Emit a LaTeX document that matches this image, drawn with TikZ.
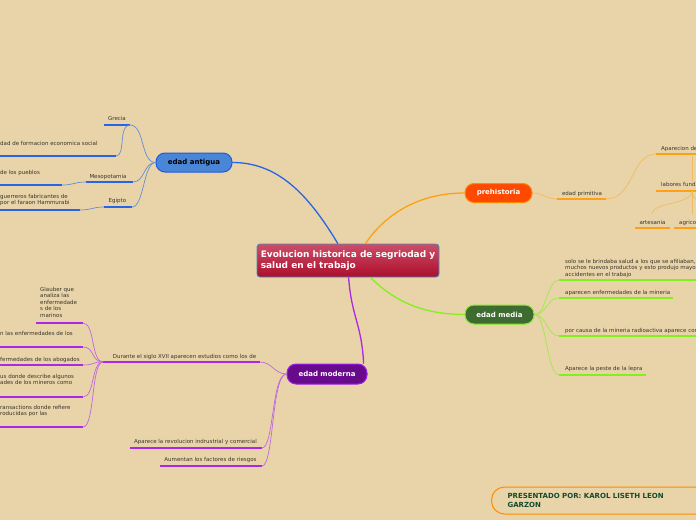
\documentclass[tikz,border=0pt]{standalone}
\usepackage{fontspec}
\setmainfont{DejaVu Sans}
\usepackage{tikz}
\usetikzlibrary{positioning}

\definecolor{paper}{RGB}{232,212,168}
\definecolor{ink}{RGB}{58,52,44}
\definecolor{centretop}{RGB}{204,78,104}
\definecolor{centrebot}{RGB}{172,14,44}
\definecolor{centreedge}{RGB}{70,140,190}
\definecolor{antfill}{RGB}{74,134,216}
\definecolor{antedge}{RGB}{30,90,225}
\definecolor{antline}{RGB}{40,100,232}
\definecolor{anttwig}{RGB}{105,140,215}
\definecolor{prefill}{RGB}{255,72,0}
\definecolor{preedge}{RGB}{255,140,0}
\definecolor{preline}{RGB}{255,160,20}
\definecolor{pretwig}{RGB}{244,186,96}
\definecolor{medfill}{RGB}{62,107,48}
\definecolor{mededge}{RGB}{128,240,32}
\definecolor{medline}{RGB}{130,240,30}
\definecolor{medtwig}{RGB}{160,232,80}
\definecolor{modfill}{RGB}{104,10,140}
\definecolor{modedge}{RGB}{160,32,240}
\definecolor{modline}{RGB}{172,40,232}
\definecolor{modtwig}{RGB}{192,104,226}
\definecolor{autorink}{RGB}{20,75,45}

\begin{document}
\begin{tikzpicture}[x=1pt, y=-1pt, every text node part/.style={align=left}]
        \tikzset{
          era/.style={draw, line width=1pt, rounded corners=9pt, minimum height=19pt,
            font=\fontsize{7}{8}\selectfont\bfseries},
          small/.style={font=\fontsize{5.5}{6.5}\selectfont, text=ink, inner sep=0pt},
          branch/.style={line width=1.3pt},
          twig/.style={line width=0.7pt},
          ul/.style={line width=1.8pt},
        }
        \useasboundingbox (0,0) rectangle (696,520);
        \fill[paper] (0,0) rectangle (696,520);
        % main nodes
        \node [draw=centreedge, line width=0.8pt, rounded corners=3pt, top color=centretop,
          bottom color=centrebot, minimum width=182pt, minimum height=33pt, text=white,
          font=\fontsize{9}{11}\selectfont\bfseries] (centre) at (348,260.5)
          {Evolucion historica de segriodad y\\salud en el trabajo};
        \node [era, fill=antfill, draw=antedge, minimum width=76pt, text=black] (antigua) at (194,162.5) {edad antigua};
        \node [era, fill=prefill, draw=preedge, minimum width=67pt, text=white] (prehistoria) at (498.5,193) {prehistoria};
        \node [era, fill=medfill, draw=mededge, minimum width=69pt, text=white] (media) at (499.5,314.5) {edad media};
        \node [era, fill=modfill, draw=modedge, minimum width=80pt, minimum height=20pt, text=white] (moderna) at (327,374) {edad moderna};
        \node [draw=preedge, line width=1pt, rounded corners=13pt, minimum height=27pt, anchor=west,
          text width=200pt, inner xsep=16pt, text=autorink, font=\fontsize{7}{9}\selectfont\bfseries]
          (autor) at (491,500.5) {PRESENTADO POR: KAROL LISETH LEON\\GARZON};
        % 
        \draw [branch, antline] (centre.121) .. controls +(-30,-50) and +(45,0) .. (antigua.east);
        \draw [branch, preline] (centre.44) .. controls +(20,-30) and +(-45,0) .. (prehistoria.west);
        \draw [branch, medline] (centre.-37) .. controls +(25,25) and +(-40,0) .. (media.west);
        \draw [branch, modline] (centre.-88) .. controls +(3,40) and +(-2,-40) .. (moderna.16);
        % edad antigua
        \coordinate (grecia-l) at (104,125);
        \coordinate (grecia-r) at (130,125);
        \coordinate (social-l) at (-2,156);
        \coordinate (social-r) at (116,156);
        \coordinate (meso-l) at (86,182);
        \coordinate (meso-r) at (133,182);
        \coordinate (pueblos-l) at (-2,185);
        \coordinate (pueblos-r) at (62,185);
        \coordinate (egipto-l) at (104,207);
        \coordinate (egipto-r) at (132,207);
        \coordinate (hammu-l) at (-2,210);
        \coordinate (hammu-r) at (80,210);
        \node [small, anchor=base] (grecia) at (117,120) {Grecia};
        \node [small, anchor=base west] (social) at (0,145) {dad de formacion economica social};
        \node [small, anchor=base] (meso) at (108,178) {Mesopotamia};
        \node [small, anchor=base west] (pueblos) at (0,174) {de los pueblos};
        \node [small, anchor=base] (egipto) at (117.5,202) {Egipto};
        \node [small, anchor=north west] (hammu) at (0,194) {guerreros fabricantes de\\por el faraon Hammurabi};
        \draw [ul, antline] (grecia-l) -- (grecia-r);
        \draw [ul, antline] (social-l) -- (social-r);
        \draw [ul, antline] (meso-l) -- (meso-r);
        \draw [ul, antline] (pueblos-l) -- (pueblos-r);
        \draw [ul, antline] (egipto-l) -- (egipto-r);
        \draw [ul, antline] (hammu-l) -- (hammu-r);
        \draw [twig, anttwig] (antigua.west) .. controls +(-15,0) and +(15,0) .. (grecia-r);
        \draw [twig, anttwig] (antigua.west) .. controls +(-12,0) and +(12,0) .. (meso-r);
        \draw [twig, anttwig] (antigua.west) .. controls +(-12,0) and +(12,0) .. (egipto-r);
        \draw [twig, anttwig] (grecia-r) .. controls +(-12,0) and +(10,0) .. (social-r);
        \draw [twig, anttwig] (meso-l) .. controls +(-12,0) and +(12,0) .. (pueblos-r);
        \draw [twig, anttwig] (egipto-l) .. controls +(-12,0) and +(12,0) .. (hammu-r);
        % prehistoria
        \coordinate (primitiva-l) at (557,199);
        \coordinate (primitiva-r) at (606,199);
        \coordinate (aparecion-l) at (656,154);
        \coordinate (aparecion-r) at (700,154);
        \coordinate (aparecion-m) at (692,154);
        \coordinate (labores-l) at (656,191);
        \coordinate (labores-r) at (700,191);
        \coordinate (labores-m) at (692,191);
        \coordinate (labores-x) at (716,216);
        \coordinate (artesania-l) at (635,228);
        \coordinate (artesania-r) at (670,228);
        \coordinate (artesania-t) at (652,214);
        \coordinate (agricola-l) at (674,228);
        \coordinate (agricola-r) at (700,228);
        \coordinate (agricola-t) at (692,214);
        \node [small, anchor=base] (primitiva) at (582,195) {edad primitiva};
        \node [small, anchor=base west] (aparecion) at (661,150) {Aparecion de};
        \node [small, anchor=base west] (labores) at (661,186.5) {labores funda};
        \node [small, anchor=base] (artesania) at (652.5,224) {artesania};
        \node [small, anchor=base west] (agricola) at (679,224) {agricol};
        \draw [ul, preline] (primitiva-l) -- (primitiva-r);
        \draw [ul, preline] (aparecion-l) -- (aparecion-r);
        \draw [ul, preline] (labores-l) -- (labores-r);
        \draw [ul, preline] (artesania-l) -- (artesania-r);
        \draw [ul, preline] (agricola-l) -- (agricola-r);
        \draw [twig, pretwig] (prehistoria.east) .. controls +(12,0) and +(-12,0) .. (primitiva-l);
        \draw [twig, pretwig] (primitiva-r) .. controls +(28,0) and +(-25,0) .. (aparecion-l);
        \draw [twig, pretwig] (aparecion-m) -- (aparecion-m |- labores.north);
        \draw [twig, pretwig] (labores-m) .. controls +(0,14) and +(0,-12) .. (artesania-t);
        \draw [twig, pretwig] (labores-m) -- (agricola-t);
        \draw [twig, pretwig] (labores-m) .. controls +(0,14) and +(0,-12) .. (labores-x);
        % edad media
        \coordinate (solo-l) at (559,280);
        \coordinate (solo-r) at (700,280);
        \coordinate (mineria-l) at (559,298);
        \coordinate (mineria-r) at (673,298);
        \coordinate (causa-l) at (559,336);
        \coordinate (causa-r) at (700,336);
        \coordinate (lepra-l) at (559,375);
        \coordinate (lepra-r) at (646,375);
        \node [small, anchor=north west] (solo) at (565,259) {solo se le brindaba salud a los que se afiliaban,\\muchos nuevos productos y esto produjo mayo\\accidentes en el trabajo};
        \node [small, anchor=base west] (mineria) at (565,294) {aparecen enfermedades de la mineria};
        \node [small, anchor=base west] (causa) at (565,332) {por causa de la mineria radioactiva aparece con};
        \node [small, anchor=base west] (lepra) at (565,370.5) {Aparece la peste de la lepra};
        \draw [ul, medline] (solo-l) -- (solo-r);
        \draw [ul, medline] (mineria-l) -- (mineria-r);
        \draw [ul, medline] (causa-l) -- (causa-r);
        \draw [ul, medline] (lepra-l) -- (lepra-r);
        \draw [twig, medtwig] (media.east) .. controls +(12,0) and +(-12,0) .. (solo-l);
        \draw [twig, medtwig] (media.east) .. controls +(12,0) and +(-12,0) .. (mineria-l);
        \draw [twig, medtwig] (media.east) .. controls +(12,0) and +(-12,0) .. (causa-l);
        \draw [twig, medtwig] (media.east) .. controls +(12,0) and +(-12,0) .. (lepra-l);
        % edad moderna
        \coordinate (durante-l) at (103,362);
        \coordinate (durante-r) at (260,362);
        \coordinate (glauber-l) at (36,323);
        \coordinate (glauber-r) at (83,323);
        \coordinate (losde-l) at (-2,347);
        \coordinate (losde-r) at (83,347);
        \coordinate (abogados-l) at (-2,365);
        \coordinate (abogados-r) at (83,365);
        \coordinate (mineros-l) at (-2,397);
        \coordinate (mineros-r) at (83,397);
        \coordinate (trans-l) at (-2,427);
        \coordinate (trans-r) at (83,427);
        \coordinate (revol-l) at (130,448);
        \coordinate (revol-r) at (262,448);
        \coordinate (riesgos-l) at (160,466);
        \coordinate (riesgos-r) at (262,466);
        \node [small, anchor=base] (durante) at (184.5,358) {Durante el siglo XVII aparecen estudios como los de};
        \node [small, anchor=north west] (glauber) at (40,287) {Glauber que\\analiza las\\enfermedade\\s de los\\marinos};
        \node [small, anchor=base west] (losde) at (0,335.5) {n las enfermedades de los};
        \node [small, anchor=base west] (abogados) at (0,361) {fermedades de los abogados};
        \node [small, anchor=north west] (mineros) at (0,374) {us donde describe algunos\\ades de los mineros como};
        \node [small, anchor=north west] (trans) at (0,405) {ransactions donde refiere\\roducidas por las};
        \node [small, anchor=base] (revol) at (195.5,443) {Aparece la revolucion indrustrial y comercial};
        \node [small, anchor=base] (riesgos) at (210.5,461) {Aumentan los factores de riesgos};
        \draw [ul, modline] (durante-l) -- (durante-r);
        \draw [ul, modline] (glauber-l) -- (glauber-r);
        \draw [ul, modline] (losde-l) -- (losde-r);
        \draw [ul, modline] (abogados-l) -- (abogados-r);
        \draw [ul, modline] (mineros-l) -- (mineros-r);
        \draw [ul, modline] (trans-l) -- (trans-r);
        \draw [ul, modline] (revol-l) -- (revol-r);
        \draw [ul, modline] (riesgos-l) -- (riesgos-r);
        \draw [twig, modtwig] (moderna.west) .. controls +(-12,0) and +(12,0) .. (durante-r);
        \draw [twig, modtwig] (moderna.west) .. controls +(-15,0) and +(12,0) .. (revol-r);
        \draw [twig, modtwig] (moderna.west) .. controls +(-15,0) and +(12,0) .. (riesgos-r);
        \draw [twig, modtwig] (durante-l) .. controls +(-12,0) and +(12,0) .. (glauber-r);
        \draw [twig, modtwig] (durante-l) .. controls +(-12,0) and +(12,0) .. (losde-r);
        \draw [twig, modtwig] (durante-l) .. controls +(-12,0) and +(12,0) .. (abogados-r);
        \draw [twig, modtwig] (durante-l) .. controls +(-12,0) and +(12,0) .. (mineros-r);
        \draw [twig, modtwig] (durante-l) .. controls +(-12,0) and +(12,0) .. (trans-r);
    \end{tikzpicture}
\end{document}
